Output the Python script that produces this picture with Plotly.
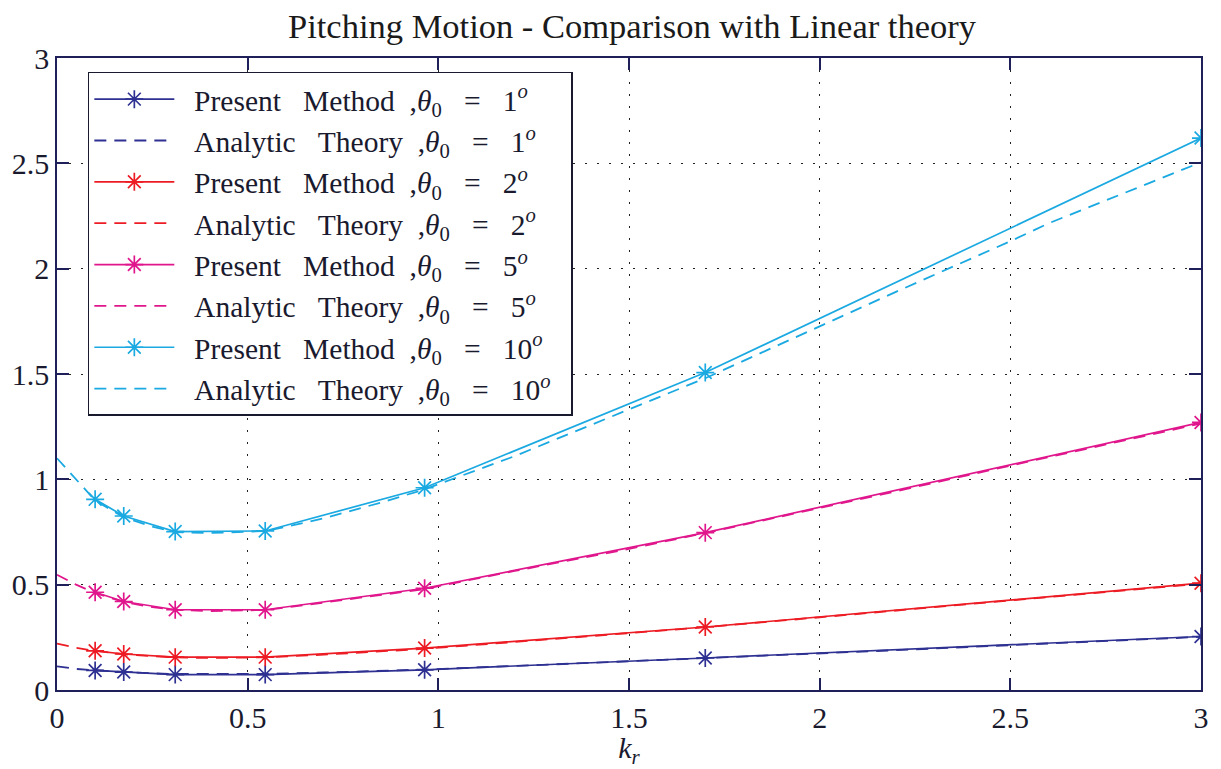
import plotly.graph_objects as go

# Present method sample points
k_pm = [0.10, 0.175, 0.31, 0.546, 0.964, 1.70, 3.00]
pm_1 = [0.093, 0.085, 0.073, 0.073, 0.096, 0.152, 0.254]
pm_2 = [0.186, 0.171, 0.156, 0.156, 0.199, 0.299, 0.507]
pm_5 = [0.464, 0.420, 0.381, 0.381, 0.483, 0.747, 1.270]
pm_10 = [0.905, 0.826, 0.752, 0.755, 0.960, 1.507, 2.620]

# Analytic (linear) theory curves
k_at = [0, 0.05, 0.1, 0.175, 0.25, 0.31, 0.4, 0.55, 0.7, 0.85, 0.96, 1.2, 1.5, 1.7, 2.0, 2.2, 2.5, 2.6, 3.0]
at_1 = [0.112, 0.100, 0.093, 0.085, 0.079, 0.076, 0.075, 0.076, 0.083, 0.090, 0.097, 0.114, 0.136, 0.150, 0.173, 0.189, 0.213, 0.221, 0.252]
at_2 = [0.220, 0.200, 0.186, 0.170, 0.160, 0.155, 0.152, 0.155, 0.168, 0.183, 0.195, 0.228, 0.271, 0.298, 0.345, 0.377, 0.425, 0.441, 0.505]
at_5 = [0.547, 0.500, 0.460, 0.418, 0.393, 0.380, 0.375, 0.380, 0.415, 0.450, 0.478, 0.565, 0.670, 0.745, 0.862, 0.943, 1.065, 1.105, 1.265]
at_10 = [1.100, 1.000, 0.900, 0.820, 0.775, 0.750, 0.745, 0.755, 0.815, 0.890, 0.950, 1.110, 1.330, 1.480, 1.726, 1.890, 2.130, 2.215, 2.505]

angles = ["1", "2", "5", "10"]
colors = ["#2e3192", "#ed1c24", "#e0168c", "#1ba9e1"]
pm_all = [pm_1, pm_2, pm_5, pm_10]
at_all = [at_1, at_2, at_5, at_10]

x_ticks = [0, 0.5, 1, 1.5, 2, 2.5, 3]
y_ticks = [0, 0.5, 1, 1.5, 2, 2.5, 3]

title_text = "Pitching Motion - Comparison with Linear theory"
xlabel = "<i>k<sub>r</sub></i>"

FONT = "Liberation Serif"
TXT = "#1a1a2e"
SP = "\u00a0"

fig = go.Figure()
for a, c, pm, at in zip(angles, colors, pm_all, at_all):
    tail = f"<i>θ</i><sub>0</sub>{SP * 3}={SP * 3}{a}<sup><i>o</i></sup>{SP * 2}"
    fig.add_trace(go.Scatter(
        x=k_pm, y=pm, mode="lines+markers",
        name=f"{SP * 2}Present{SP * 3}Method{SP * 2},{tail}",
        line=dict(color=c, width=1.7),
        marker=dict(symbol="asterisk-open", size=15, line=dict(color=c, width=1.7)),
    ))
    fig.add_trace(go.Scatter(
        x=k_at, y=at, mode="lines",
        name=f"{SP * 2}Analytic{SP * 3}Theory{SP * 2},{tail}",
        line=dict(color=c, width=1.8, dash="12px,8px"),
    ))

axis_common = dict(
    showline=True, linecolor="#1f1f5a", linewidth=1.5, mirror="ticks",
    ticks="inside", ticklen=12, tickcolor="#1f1f5a", tickwidth=1.5,
    showgrid=True, gridcolor="#222222", griddash="2px,10px", gridwidth=1.2,
    zeroline=False,
    tickfont=dict(family=FONT, size=30, color=TXT),
)

fig.update_layout(
    width=1221, height=769,
    margin=dict(l=57, r=14, t=58, b=77),
    paper_bgcolor="white", plot_bgcolor="white",
    title=dict(text=title_text, x=(57 + 1207) / 2 / 1221, xanchor="center",
               y=1 - 26 / 769, yanchor="middle",
               font=dict(family=FONT, size=34.5, color="#1a1a1a")),
    xaxis=dict(range=[0, 3], tickvals=x_ticks, ticktext=[f"{v:g}" for v in x_ticks],
               title=dict(text=xlabel, font=dict(family=FONT, size=30, color=TXT), standoff=2),
               **axis_common),
    yaxis=dict(range=[0, 3], tickvals=y_ticks, ticktext=[f"{v:g}" for v in y_ticks],
               **axis_common),
    legend=dict(x=(88 - 57) / 1150, y=(692 - 72) / 634, xanchor="left", yanchor="top",
                bgcolor="white", bordercolor=TXT, borderwidth=1.5,
                font=dict(family=FONT, size=29.5, color=TXT),
                itemwidth=80, tracegroupgap=0),
    showlegend=True,
)

fig.write_html("out.html")
